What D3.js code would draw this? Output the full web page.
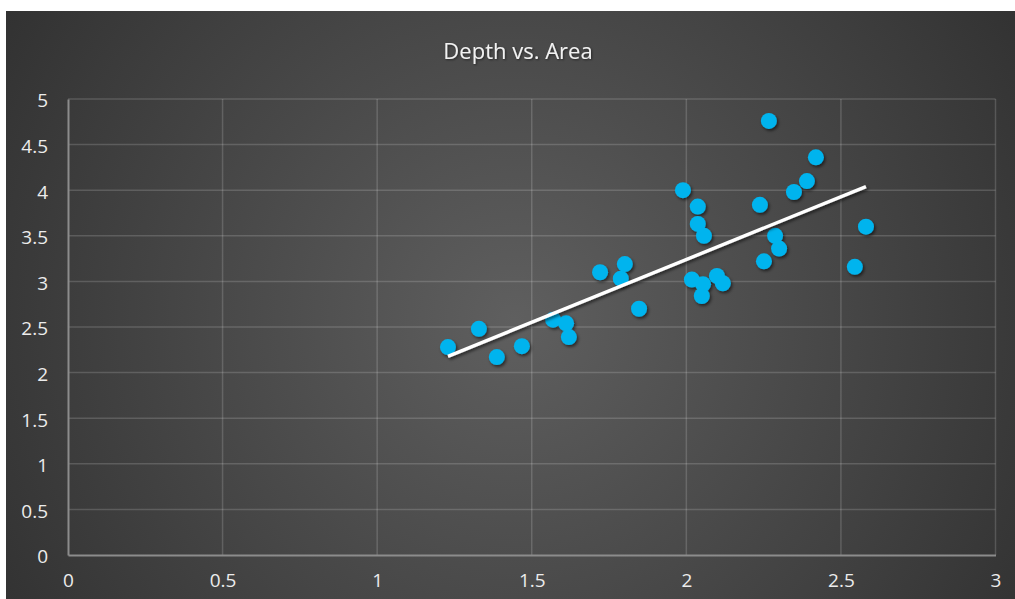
<!DOCTYPE html>
<html>
<head>
<meta charset="utf-8">
<script src="https://cdn.jsdelivr.net/npm/d3@7"></script>
<style>
  html, body { margin: 0; padding: 0; background: #ffffff; }
  svg { display: block; }
</style>
</head>
<body>
<svg id="chart" width="1015" height="599"></svg>
<script>
// Area (x) and depth (y) of each sample
const areaValues  = [1.229, 1.329, 1.387, 1.468, 1.569, 1.611, 1.620, 1.721, 1.788, 1.801,
                     1.847, 1.989, 2.037, 2.037, 2.057, 2.018, 2.054, 2.050, 2.099, 2.118,
                     2.267, 2.238, 2.251, 2.287, 2.300, 2.348, 2.390, 2.419, 2.545, 2.581];
const depthValues = [2.28, 2.48, 2.17, 2.29, 2.58, 2.54, 2.39, 3.10, 3.03, 3.19,
                     2.70, 4.00, 3.82, 3.63, 3.50, 3.02, 2.97, 2.84, 3.06, 2.98,
                     4.76, 3.84, 3.22, 3.50, 3.36, 3.98, 4.10, 4.36, 3.16, 3.60];
const xTicks = [0, 0.5, 1, 1.5, 2, 2.5, 3];
const yTicks = [0, 0.5, 1, 1.5, 2, 2.5, 3, 3.5, 4, 4.5, 5];
const chartTitle = "Depth vs. Area";

const points = areaValues.map((a, i) => ({ x: a, y: depthValues[i] }));

const svg = d3.select("#chart");
const frame = { x: 6, y: 11, w: 1009, h: 588 };
const plot = { left: 68, right: 995.5, top: 99, bottom: 555 };
const font = "'Open Sans', 'Noto Sans', sans-serif";

const defs = svg.append("defs");
const bg = defs.append("radialGradient")
  .attr("id", "bgGrad")
  .attr("gradientUnits", "userSpaceOnUse")
  .attr("cx", 515).attr("cy", 320).attr("r", 620);
bg.append("stop").attr("offset", "0%").attr("stop-color", "#5f5f5f");
bg.append("stop").attr("offset", "100%").attr("stop-color", "#303030");

const shadow = defs.append("filter").attr("id", "dropShadow")
  .attr("x", "-50%").attr("y", "-50%").attr("width", "200%").attr("height", "200%");
shadow.append("feDropShadow")
  .attr("dx", 1.5).attr("dy", 2).attr("stdDeviation", 1.6)
  .attr("flood-color", "#000").attr("flood-opacity", 0.55);

const textShadow = defs.append("filter").attr("id", "textShadow");
textShadow.append("feDropShadow")
  .attr("dx", 1).attr("dy", 1).attr("stdDeviation", 1)
  .attr("flood-color", "#000").attr("flood-opacity", 0.5);

svg.append("rect")
  .attr("x", frame.x).attr("y", frame.y)
  .attr("width", frame.w).attr("height", frame.h)
  .attr("fill", "url(#bgGrad)");

const x = d3.scaleLinear().domain([0, 3]).range([plot.left, plot.right]);
const y = d3.scaleLinear().domain([0, 5]).range([plot.bottom, plot.top]);

// Gridlines
const grid = svg.append("g");
grid.selectAll("line.h").data(yTicks.filter(t => t > 0)).join("line")
  .attr("x1", plot.left).attr("x2", plot.right)
  .attr("y1", d => y(d)).attr("y2", d => y(d))
  .attr("stroke", "#ffffff").attr("stroke-opacity", 0.16).attr("stroke-width", 1.5);
grid.selectAll("line.v").data(xTicks.filter(t => t > 0)).join("line")
  .attr("y1", plot.top).attr("y2", plot.bottom)
  .attr("x1", d => x(d)).attr("x2", d => x(d))
  .attr("stroke", "#ffffff").attr("stroke-opacity", 0.16).attr("stroke-width", 1.5);

// Axes
const xAxis = svg.append("g")
  .attr("transform", `translate(0,${plot.bottom})`)
  .call(d3.axisBottom(x).tickValues(xTicks).tickSize(0).tickPadding(19).tickFormat(d3.format("")));
const yAxis = svg.append("g")
  .attr("transform", `translate(${plot.left},0)`)
  .call(d3.axisLeft(y).tickValues(yTicks).tickSize(0).tickPadding(20).tickFormat(d3.format("")));
[xAxis, yAxis].forEach(g => {
  g.select(".domain").attr("stroke", "#8c8c8c").attr("stroke-width", 2);
  g.selectAll("text")
    .attr("fill", "#ececec")
    .attr("font-family", font)
    .attr("font-size", 19);
});
yAxis.selectAll("text").attr("dy", "0.42em");

// Least-squares trend line across the sampled range
const mx = d3.mean(points, d => d.x), my = d3.mean(points, d => d.y);
const slope = d3.sum(points, d => (d.x - mx) * (d.y - my)) / d3.sum(points, d => (d.x - mx) ** 2);
const intercept = my - slope * mx;
const [xmin, xmax] = d3.extent(points, d => d.x);
const trend = [xmin, xmax].map(v => ({ x: v, y: intercept + slope * v }));

// Points
svg.append("g").attr("filter", "url(#dropShadow)")
  .selectAll("circle").data(points).join("circle")
  .attr("cx", d => x(d.x)).attr("cy", d => y(d.y))
  .attr("r", 8)
  .attr("fill", "#00b4ee");

svg.append("path")
  .datum(trend)
  .attr("d", d3.line().x(d => x(d.x)).y(d => y(d.y)))
  .attr("stroke", "#ffffff").attr("stroke-width", 3.4).attr("fill", "none")
  .attr("filter", "url(#dropShadow)");

// Title
svg.append("text")
  .attr("x", 518).attr("y", 59)
  .attr("text-anchor", "middle")
  .attr("fill", "#f2f2f2")
  .attr("font-family", font)
  .attr("font-size", 22)
  .attr("filter", "url(#textShadow)")
  .text(chartTitle);
</script>
</body>
</html>
